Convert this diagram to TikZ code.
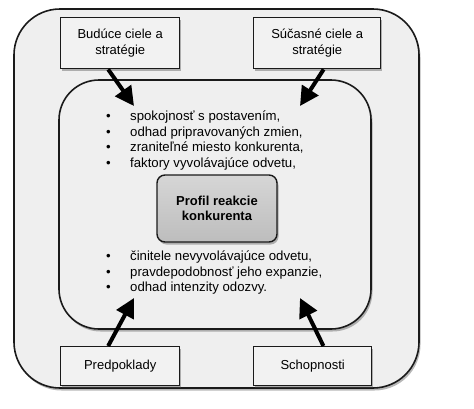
\documentclass[tikz,border=0pt]{standalone}
\usepackage{fontspec}
\setmainfont{Liberation Sans}
\usetikzlibrary{shadows,arrows.meta,calc}
\definecolor{panel}{HTML}{EFEFEF}
\definecolor{boxfill}{HTML}{F2F2F2}
\definecolor{coretop}{HTML}{D6D6D6}
\definecolor{corebot}{HTML}{BDBDBD}
\definecolor{edge}{HTML}{1A1A1A}
\tikzset{
  shadowed/.style={drop shadow={shadow xshift=1.5pt,shadow yshift=-2.5pt,opacity=.4,fill=black!70}},
  panelbox/.style={draw=edge,line width=1.6pt,fill=panel,shadowed},
  factor/.style={draw=edge,line width=1.4pt,fill=boxfill,shadowed,inner sep=0pt,align=center,
     font=\fontsize{13}{16}\selectfont,anchor=north west},
  core/.style={draw=edge,line width=1.4pt,rounded corners=8pt,top color=coretop,bottom color=corebot,
     shadowed,inner sep=0pt,align=center,font=\fontsize{13}{15}\selectfont\bfseries,
     minimum width=120pt,minimum height=67pt},
  bullets/.style={anchor=north west,inner sep=0pt,align=left,font=\fontsize{13.2}{15.5}\selectfont},
  push/.style={line width=4pt,draw=black,-{Triangle[length=19pt,width=19pt]}}
}
\newcommand{\bl}{\makebox[24pt][l]{\textbullet}}
\begin{document}
\begin{tikzpicture}[x=1pt,y=-1pt]
\useasboundingbox (0,0) rectangle (474,408);
\path[panelbox,rounded corners=46pt] (14,9) rectangle (419,388);
\path[panelbox,rounded corners=40pt] (59,80) rectangle (371,329);
\node[factor,minimum width=119pt,minimum height=51pt] (tl) at (60,17) {Budúce ciele a\\stratégie};
\node[factor,minimum width=127pt,minimum height=51pt] (tr) at (253,17) {Súčasné ciele a\\stratégie};
\node[factor,minimum width=119pt,minimum height=39pt] (bl) at (60,346) {Predpoklady};
\node[factor,minimum width=118pt,minimum height=39pt] (br) at (253,346) {Schopnosti};
\node[core] (c) at (217,208.5) {Profil reakcie\\konkurenta};
\node[bullets] (up) at (106,111) {\bl spokojnosť s postavením,\\\bl odhad pripravovaných zmien,\\\bl zraniteľné miesto konkurenta,\\\bl faktory vyvolávajúce odvetu,};
\node[bullets] (lo) at (106,251) {\bl činitele nevyvolávajúce odvetu,\\\bl pravdepodobnosť jeho expanzie,\\\bl odhad intenzity odozvy.};
\coordinate (t1) at (134,106);
\coordinate (t2) at (300,106);
\coordinate (t3) at (134,298);
\coordinate (t4) at (300,298);
\draw[push] ($(tl.south west)!0.40!(tl.south east)$) -- (t1);
\draw[push] ($(tr.south west)!0.55!(tr.south east)$) -- (t2);
\draw[push] ($(bl.north west)!0.40!(bl.north east)$) -- (t3);
\draw[push] ($(br.north west)!0.59!(br.north east)$) -- (t4);
\end{tikzpicture}
\end{document}
